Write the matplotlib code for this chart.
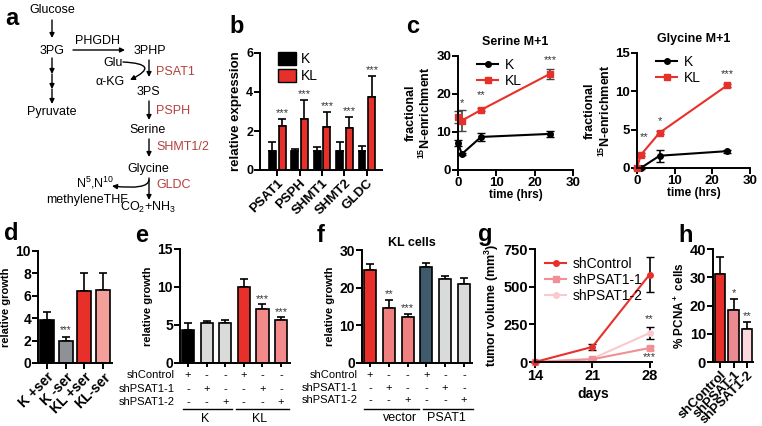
import matplotlib
matplotlib.use("Agg")
import matplotlib.pyplot as plt
import numpy as np
from matplotlib.patches import Patch, FancyArrowPatch
from matplotlib.lines import Line2D
from matplotlib.path import Path
import matplotlib.transforms as mtransforms

plt.rcParams["font.family"] = ["Liberation Sans", "DejaVu Sans"]
plt.rcParams["font.weight"] = "bold"
plt.rcParams["axes.labelweight"] = "bold"
plt.rcParams["axes.titleweight"] = "bold"
plt.rcParams["mathtext.default"] = "regular"

RED = "#e8302a"
PINK = "#f28a8c"
GRAY = "#8e9297"
LGRAY = "#d9dbda"
SLATE = "#3f5a6b"
ENZ = "#b3413d"

# ---- data ----
# b: relative expression
genes = ["PSAT1", "PSPH", "SHMT1", "SHMT2", "GLDC"]
b_k = [1.0, 1.0, 1.0, 1.0, 1.0]
b_k_err = [0.45, 0.08, 0.2, 0.45, 0.25]
b_kl = [2.25, 2.6, 2.2, 2.15, 3.75]
b_kl_err = [0.35, 1.0, 0.75, 0.55, 1.05]

# c: 15N enrichment
times = [0, 1, 6, 24]
ser_k = [7.1, 4.2, 8.7, 9.5]
ser_k_err = [0.8, 0.3, 1.0, 0.8]
ser_kl = [14.0, 13.0, 15.8, 25.3]
ser_kl_err = [1.6, 2.8, 0.4, 1.3]
ser_star_t = [1, 6, 24]
ser_star_y = [16.3, 18.3, 27.6]
ser_stars = ["*", "**", "***"]
gly_k = [0.0, 0.0, 1.6, 2.2]
gly_k_err = [0.0, 0.1, 0.8, 0.2]
gly_kl = [0.0, 1.7, 4.6, 10.8]
gly_kl_err = [0.1, 0.2, 0.2, 0.2]
gly_star_t = [2, 6, 24]
gly_star_y = [3.4, 5.5, 11.6]
gly_stars = ["**", "*", "***"]

# d: serine starvation
d_labels = ["K +ser", "K -ser", "KL +ser", "KL-ser"]
d_vals = [3.8, 2.0, 6.4, 6.55]
d_err = [0.75, 0.35, 1.6, 1.45]

# e: PSAT1 knockdown in K / KL
e_vals = [4.4, 5.2, 5.3, 10.0, 7.1, 5.6]
e_err = [0.8, 0.3, 0.3, 1.1, 0.6, 0.4]
e_stars = ["", "", "", "", "***", "***"]

# f: KL cells, vector vs PSAT1
f_vals = [24.8, 14.6, 12.2, 25.6, 22.3, 21.0]
f_err = [1.6, 2.1, 0.8, 1.0, 0.9, 1.5]
f_stars = ["", "**", "***", "", "", ""]

rows = ["shControl", "shPSAT1-1", "shPSAT1-2"]
signs = [["+", "-", "-", "+", "-", "-"],
         ["-", "+", "-", "-", "+", "-"],
         ["-", "-", "+", "-", "-", "+"]]

# g: tumor volume
days = [14, 21, 28]
g_ctrl = [0, 100, 580]
g_ctrl_err = [0, 18, 115]
g_sh1 = [0, 18, 93]
g_sh1_err = [0, 4, 15]
g_sh2 = [0, 22, 192]
g_sh2_err = [0, 5, 38]

# h: PCNA
h_labels = ["shControl", "shPSAT-1", "shPSAT1-2"]
h_vals = [31.0, 18.5, 11.8]
h_err = [6.0, 3.8, 2.2]
h_stars = ["", "*", "**"]

W, H = 762, 426
fig = plt.figure(figsize=(W / 100, H / 100), dpi=100)

ov = fig.add_axes([0, 0, 1, 1])
ov.set_xlim(0, W)
ov.set_ylim(H, 0)
ov.axis("off")


def px_axes(l, t, r, b, tsize=10):
    ax = fig.add_axes([l / W, 1 - b / H, (r - l) / W, (b - t) / H])
    ax.patch.set_alpha(0)
    for s in ["top", "right"]:
        ax.spines[s].set_visible(False)
    for s in ["left", "bottom"]:
        ax.spines[s].set_linewidth(1.4)
    ax.tick_params(width=1.4, length=4, labelsize=tsize, pad=1)
    return ax


def bars(ax, x, vals, errs, colors, width):
    ax.bar(x, vals, width, color=colors, edgecolor="black", linewidth=1.2, zorder=2)
    ax.errorbar(x, vals, yerr=[np.zeros(len(vals)), errs], fmt="none",
                ecolor="black", elinewidth=1.2, capsize=3, capthick=1.2, zorder=1)


def stars(ax, x, y, s, size=8):
    for xi, yi, si in zip(x, y, s):
        ax.text(xi, yi, si, ha="center", va="bottom", fontsize=size,
                fontweight="normal", color="#333333")


# ---- panel letters ----
for lab, x, y in [("a", 12, 25), ("b", 237, 33), ("c", 413, 33), ("d", 11, 240),
                  ("e", 142, 242), ("f", 321, 242), ("g", 485, 241), ("h", 686, 242)]:
    ov.text(x, y, lab, fontsize=17, fontweight="bold", ha="center", va="baseline")

# ---- panel a: pathway ----
def t(x, y, s, color="black", ha="center"):
    ov.text(x, y, s, fontsize=9, fontweight="normal", color=color, ha=ha, va="center")


def arr(x0, y0, x1, y1):
    ov.annotate("", xy=(x1, y1), xytext=(x0, y0),
                arrowprops=dict(arrowstyle="-|>", color="black", lw=1,
                                mutation_scale=7, shrinkA=0, shrinkB=0))


t(52, 10, "Glucose")
t(52, 51, "3PG")
t(97, 41, "PHGDH")
t(150, 51, "3PHP")
t(113, 63, "Glu")
t(110, 82, "α-KG")
t(148, 92, "3PS")
t(52, 112, "Pyruvate")
t(148, 130, "Serine")
t(148, 169, "Glycine")
t(95, 183, "N$^5$,N$^{10}$")
t(87, 200, "methyleneTHF")
t(148, 207, "CO$_2$+NH$_3$")
t(156, 72, "PSAT1", ENZ, "left")
t(156, 111, "PSPH", ENZ, "left")
t(156, 147, "SHMT1/2", ENZ, "left")
t(156, 185, "GLDC", ENZ, "left")

arr(52, 20, 52, 38)
arr(73, 50, 125, 50)
arr(52, 58, 52, 74)
arr(52, 74, 52, 89)
arr(52, 89, 52, 104)
arr(149, 60, 149, 77)
arr(149, 101, 149, 120)
arr(149, 139, 149, 157)
arr(149, 178, 149, 200)

glu_path = Path([(123, 62), (162, 64), (130, 80)], [Path.MOVETO, Path.CURVE3, Path.CURVE3])
ov.add_patch(FancyArrowPatch(path=glu_path, arrowstyle="-|>", mutation_scale=7,
                             color="black", lw=1, transform=ov.transData))
gldc_path = Path([(149, 180), (148, 190), (112, 186)], [Path.MOVETO, Path.CURVE3, Path.CURVE3])
ov.add_patch(FancyArrowPatch(path=gldc_path, arrowstyle="-|>", mutation_scale=7,
                             color="black", lw=1, transform=ov.transData))

# ---- panel b ----
ax = px_axes(260, 53, 382, 170, tsize=9)
xb = np.arange(len(genes))
bars(ax, xb - 0.22, b_k, b_k_err, "black", 0.31)
bars(ax, xb + 0.22, b_kl, b_kl_err, RED, 0.31)
stars(ax, xb + 0.22, np.array(b_kl) + np.array(b_kl_err) + 0.05, ["***"] * 5)
ax.set_xlim(-0.76, 4.67)
ax.set_ylim(0, 6)
ax.set_yticks([0, 2, 4, 6])
ax.set_xticks(xb)
ax.set_xticklabels(genes, rotation=45, ha="right", rotation_mode="anchor", fontsize=9.5)
ax.set_ylabel("relative expression", fontsize=9.5, labelpad=3)
ax.legend(handles=[Patch(facecolor="black", edgecolor="black", label="K"),
                   Patch(facecolor=RED, edgecolor="black", label="KL")],
          loc="upper left", bbox_to_anchor=(0.1, 1.06), frameon=False,
          prop={"weight": "normal", "size": 10}, handlelength=1.3, handleheight=1.1,
          handletextpad=0.4, labelspacing=0.2, borderaxespad=0)

# ---- panel c ----
def line_panel(ax, k, kerr, kl, klerr, st_t, st_y, st_s):
    ax.errorbar(times, k, yerr=kerr, color="black", marker="o", ms=4, lw=1.5,
                capsize=3, elinewidth=1.2, label="K", clip_on=False)
    ax.errorbar(times, kl, yerr=klerr, color=RED, marker="s", ms=4, lw=1.5,
                capsize=3, elinewidth=1.2, ecolor="#444444", label="KL", clip_on=False)
    stars(ax, st_t, st_y, st_s)
    ax.set_xlim(0, 30)
    ax.set_xticks([0, 10, 20, 30])
    ax.set_xlabel("time (hrs)", fontsize=8.5, labelpad=0)
    ax.set_ylabel("fractional\n$^{15}$N-enrichment", fontsize=9, labelpad=2,
                  linespacing=1.1)
    h = [Line2D([], [], color="black", marker="o", ms=4, lw=1.5, label="K"),
         Line2D([], [], color=RED, marker="s", ms=4, lw=1.5, label="KL")]
    ax.legend(handles=h, loc="upper left", bbox_to_anchor=(0.12, 1.03), frameon=False,
              prop={"weight": "normal", "size": 10}, handlelength=1.5,
              handletextpad=0.5, labelspacing=0.15, borderaxespad=0)


ax = px_axes(458, 56, 573, 170, tsize=9.5)
line_panel(ax, ser_k, ser_k_err, ser_kl, ser_kl_err, ser_star_t, ser_star_y, ser_stars)
ax.set_ylim(0, 30)
ax.set_yticks([0, 10, 20, 30])
ax.set_title("Serine M+1", fontsize=9, pad=8)

ax = px_axes(637, 53, 750, 168, tsize=9.5)
line_panel(ax, gly_k, gly_k_err, gly_kl, gly_kl_err, gly_star_t, gly_star_y, gly_stars)
ax.set_ylim(0, 15)
ax.set_yticks([0, 5, 10, 15])
ax.set_title("Glycine M+1", fontsize=9, pad=8)

# ---- panel d ----
ax = px_axes(38, 251, 112, 363)
xd = np.arange(len(d_vals))
bars(ax, xd, d_vals, d_err, ["black", GRAY, RED, "#f4a09a"], 0.75)
stars(ax, [1], [d_vals[1] + d_err[1] + 0.1], ["***"], size=7)
ax.set_xlim(-0.48, 3.48)
ax.set_ylim(0, 10)
ax.set_yticks([0, 2, 4, 6, 8, 10])
ax.set_xticks(xd)
ax.set_xticklabels(d_labels, rotation=45, ha="right", rotation_mode="anchor")
ax.set_ylabel("relative growth", fontsize=8, labelpad=3)


# ---- panels e, f ----
def sign_table(ax, x, row_y, label_x):
    tr = mtransforms.blended_transform_factory(ax.transData, ov.transData)
    for r, y in enumerate(row_y):
        ov.text(label_x, y, rows[r], fontsize=8, fontweight="normal", ha="right", va="center")
        for xi, s in zip(x, signs[r]):
            ax.text(xi, y, s, transform=tr, fontsize=8, fontweight="normal",
                    ha="center", va="center", clip_on=False)


ax = px_axes(180, 249, 290, 363)
xe = np.arange(len(e_vals))
bars(ax, xe, e_vals, e_err, ["black", LGRAY, LGRAY, RED, PINK, PINK], 0.65)
stars(ax, xe, np.array(e_vals) + np.array(e_err) + 0.1, e_stars)
ax.set_xlim(-0.43, 5.48)
ax.set_ylim(0, 15)
ax.set_yticks([0, 5, 10, 15])
ax.set_xticks(xe)
ax.set_xticklabels([])
ax.tick_params(axis="x", length=3)
ax.set_ylabel("relative growth", fontsize=8, labelpad=3)
sign_table(ax, xe, [375, 389, 402], 175)
ov.plot([183, 232], [409, 409], color="black", lw=1)
ov.plot([236, 289], [409, 409], color="black", lw=1)
ov.text(205, 419, "K", fontsize=9, fontweight="normal", ha="center", va="center")
ov.text(260, 419, "KL", fontsize=9, fontweight="normal", ha="center", va="center")

ax = px_axes(362, 250, 472, 363)
xf = np.arange(len(f_vals))
bars(ax, xf, f_vals, f_err, [RED, "#f08080", "#f08080", SLATE, LGRAY, LGRAY], 0.64)
stars(ax, xf, np.array(f_vals) + np.array(f_err) + 0.2, f_stars)
ax.set_xlim(-0.43, 5.43)
ax.set_ylim(0, 30)
ax.set_yticks([0, 10, 20, 30])
ax.set_xticks(xf)
ax.set_xticklabels([])
ax.tick_params(axis="x", length=3)
ax.set_ylabel("relative growth", fontsize=8, labelpad=3)
ax.set_title("KL cells", fontsize=9, pad=3, x=0.45)
sign_table(ax, xf, [375, 388, 400], 358)
ov.plot([364, 419], [409, 409], color="black", lw=1)
ov.plot([423, 473], [409, 409], color="black", lw=1)
ov.text(400, 418, "vector", fontsize=9, fontweight="normal", ha="center", va="center")
ov.text(446, 418, "PSAT1", fontsize=9, fontweight="normal", ha="center", va="center")

# ---- panel g ----
ax = px_axes(535, 249, 652, 362, tsize=10.5)
ax.errorbar(days, g_sh2, yerr=g_sh2_err, color="#f9c9cd", marker="o", ms=4, lw=1.5,
            capsize=3, ecolor="black", elinewidth=1.2, clip_on=False)
ax.errorbar(days, g_sh1, yerr=g_sh1_err, color="#f28f95", marker="s", ms=4, lw=1.5,
            capsize=3, elinewidth=1.2, clip_on=False)
ax.errorbar(days, g_ctrl, yerr=g_ctrl_err, color=RED, marker="o", ms=4, lw=1.5,
            capsize=3, ecolor="black", elinewidth=1.2, clip_on=False)
ax.text(28, 250, "**", ha="center", va="bottom", fontsize=8, fontweight="normal", color="#333333")
ax.text(28, 32, "***", ha="center", va="center", fontsize=8, fontweight="normal", color="#333333")
ax.set_xlim(14, 28.3)
ax.set_ylim(0, 750)
ax.set_xticks(days)
ax.set_yticks([0, 250, 500, 750])
ax.set_xlabel("days", fontsize=10, labelpad=3)
ax.set_ylabel("tumor volume (mm$^3$)", fontsize=9, labelpad=2)
gh = [Line2D([], [], color=RED, marker="o", ms=4, lw=1.5, label="shControl"),
      Line2D([], [], color="#f28f95", marker="s", ms=4, lw=1.5, label="shPSAT1-1"),
      Line2D([], [], color="#f9c9cd", marker="o", ms=4, lw=1.5, label="shPSAT1-2")]
ax.legend(handles=gh, loc="upper left", bbox_to_anchor=(0.04, 0.98), frameon=False,
          prop={"weight": "normal", "size": 10}, handlelength=1.5,
          handletextpad=0.5, labelspacing=0.15, borderaxespad=0)

# ---- panel h ----
ax = px_axes(713, 249, 753, 362, tsize=10.5)
xh = np.arange(len(h_vals))
bars(ax, xh, h_vals, h_err, [RED, "#ec8a92", "#fbd9dc"], 0.8)
stars(ax, xh, np.array(h_vals) + np.array(h_err) + 0.5, h_stars)
ax.set_xlim(-0.52, 2.44)
ax.set_ylim(0, 40)
ax.set_yticks([0, 10, 20, 30, 40])
ax.set_xticks(xh)
ax.set_xticklabels(h_labels, rotation=45, ha="right", rotation_mode="anchor", fontsize=9.5)
ax.set_ylabel("% PCNA$^+$ cells", fontsize=8.5, labelpad=2)

fig.savefig("out.png", dpi=100)
